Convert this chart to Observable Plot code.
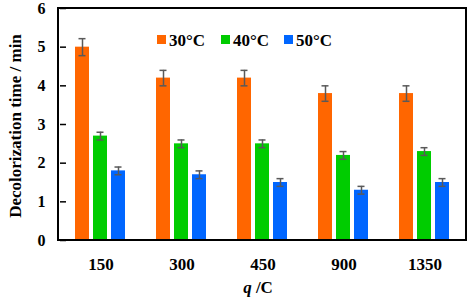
<!DOCTYPE html>
<html>
<head>
<meta charset="utf-8">
<script src="https://cdn.jsdelivr.net/npm/d3@7"></script>
<script src="https://cdn.jsdelivr.net/npm/@observablehq/plot@0.6"></script>
<style>
  html, body { margin: 0; padding: 0; background: #fff; }
</style>
</head>
<body>
<div id="chart"></div>
<script>
const qValues = ["150", "300", "450", "900", "1350"];
const temps = ["30°C", "40°C", "50°C"];
const colors = ["#ff6600", "#00cc00", "#0066ff"];
const times30 = [5.0, 4.2, 4.2, 3.8, 3.8];
const times40 = [2.7, 2.5, 2.5, 2.2, 2.3];
const times50 = [1.8, 1.7, 1.5, 1.3, 1.5];
const err30 = [0.22, 0.2, 0.2, 0.2, 0.2];
const err40 = [0.1, 0.1, 0.1, 0.1, 0.1];
const err50 = [0.1, 0.1, 0.1, 0.1, 0.1];
const yTicks = [0, 1, 2, 3, 4, 5, 6];

(function () {
const series = [times30, times40, times50];
const errs = [err30, err40, err50];
const data = [];
qValues.forEach((q, i) => {
  temps.forEach((t, j) => {
    data.push({q, temp: t, value: series[j][i], err: errs[j][i]});
  });
});

const font = "'Liberation Serif', 'Times New Roman', serif";
const errColor = "#595959";

const plot = Plot.plot({
  width: 470,
  height: 299,
  marginLeft: 58,
  marginRight: 4,
  marginTop: 8,
  marginBottom: 59,
  style: {fontFamily: font, fontWeight: "bold", fontSize: "16px", color: "black", background: "white"},
  fx: {domain: qValues, padding: 0, label: null, axis: null},
  x: {domain: temps, paddingInner: 0.22, paddingOuter: 0.77, axis: null},
  y: {domain: [0, 6], axis: null},
  color: {domain: temps, range: colors},
  marks: [
    Plot.barY(data, {fx: "q", x: "temp", y: "value", fill: "temp"}),
    Plot.ruleX(data, {fx: "q", x: "temp", y1: d => d.value - d.err, y2: d => d.value + d.err, stroke: errColor, strokeWidth: 1.5}),
    Plot.tickY(data, {fx: "q", x: "temp", y: d => d.value + d.err, stroke: errColor, strokeWidth: 1.5, insetLeft: 3.5, insetRight: 3.5}),
    Plot.tickY(data, {fx: "q", x: "temp", y: d => d.value - d.err, stroke: errColor, strokeWidth: 1.5, insetLeft: 3.5, insetRight: 3.5}),
    Plot.axisY({ticks: yTicks, tickSize: -6, tickPadding: 21, tickFormat: d => String(d), strokeWidth: 1.5, fontSize: 16, fontWeight: "bold", label: null}),
    Plot.axisFx({anchor: "bottom", tickSize: 0, tickPadding: 17, fontSize: 17, fontWeight: "bold", label: null})
  ]
});

document.getElementById("chart").appendChild(plot);

const svg = d3.select(plot.tagName === "svg" ? plot : plot.querySelector("svg"));
const fxR = plot.scale("fx").range;
const yR = plot.scale("y").range;
const x0 = Math.min(...fxR), x1 = Math.max(...fxR);
const y0 = Math.min(...yR), y1 = Math.max(...yR);

svg.append("rect")
  .attr("x", x0).attr("y", y0)
  .attr("width", x1 - x0).attr("height", y1 - y0)
  .attr("fill", "none").attr("stroke", "black").attr("stroke-width", 2);

// Legend
const legendX = [157, 221, 284];
const lg = svg.append("g").attr("font-family", font).attr("font-weight", "bold").attr("font-size", 17).attr("text-anchor", "start");
temps.forEach((t, i) => {
  lg.append("rect").attr("x", legendX[i]).attr("y", 35).attr("width", 9).attr("height", 9).attr("fill", colors[i]);
  lg.append("text").attr("x", legendX[i] + 12).attr("y", 46).attr("text-anchor", "start").attr("fill", "black").text(t);
});

// Axis titles
svg.append("text")
  .attr("transform", `translate(21,${(y0 + y1) / 2 + 2}) rotate(-90)`)
  .attr("text-anchor", "middle")
  .attr("font-family", font).attr("font-weight", "bold").attr("font-size", 17)
  .attr("fill", "black")
  .text("Decolorization time / min");

const xt = svg.append("text")
  .attr("x", (x0 + x1) / 2 - 4).attr("y", 293)
  .attr("text-anchor", "middle")
  .attr("font-family", font).attr("font-weight", "bold").attr("font-size", 17)
  .attr("fill", "black");
xt.append("tspan").attr("font-style", "italic").text("q");
xt.append("tspan").text(" /C");
})();
</script>
</body>
</html>
